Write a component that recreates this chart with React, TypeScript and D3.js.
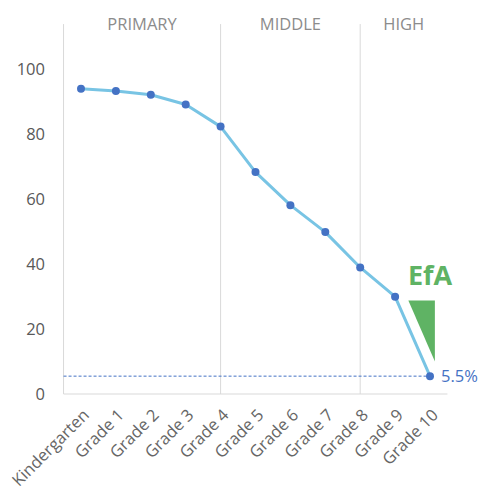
import { useEffect, useRef } from 'react';
import * as d3 from 'd3';

const grades = ['Kindergarten', 'Grade 1', 'Grade 2', 'Grade 3', 'Grade 4', 'Grade 5', 'Grade 6', 'Grade 7', 'Grade 8', 'Grade 9', 'Grade 10'];
const values = [94.1, 93.4, 92.2, 89.2, 82.4, 68.4, 58.2, 49.9, 39.0, 30.0, 5.5];
const yTicks = [0, 20, 40, 60, 80, 100];
const sections = [
  { label: 'PRIMARY', from: 'Kindergarten', to: 'Grade 4' },
  { label: 'MIDDLE', from: 'Grade 4', to: 'Grade 8' },
  { label: 'HIGH', from: 'Grade 8', to: 'Grade 10' },
];
const dividers = ['Grade 4', 'Grade 8'];
const lastLabel = '5.5%';

export default function App() {
  const svgRef = useRef<SVGSVGElement>(null);

  useEffect(() => {
    if (!svgRef.current) return;
    const svg = d3.select(svgRef.current);
    svg.selectAll('*').remove();

    const font = '"Open Sans", sans-serif';
    const x = d3.scalePoint<string>().domain(grades).range([81, 430]).padding(0);
    const step = x.step();
    const left = x('Kindergarten')! - step / 2;
    const right = x('Grade 10')! + step / 2;
    const y = d3.scaleLinear().domain([0, 100]).range([394, 69.5]);
    const top = y(114);

    // Vertical section lines
    const vlines = [left, ...dividers.map(d => x(d)!)];
    svg.selectAll('.vline')
      .data(vlines)
      .enter()
      .append('line')
      .attr('x1', d => d)
      .attr('x2', d => d)
      .attr('y1', top)
      .attr('y2', y(0))
      .attr('stroke', '#d9d9d9')
      .attr('stroke-width', 1);

    // Bottom axis line
    svg.append('line')
      .attr('x1', left)
      .attr('x2', right)
      .attr('y1', y(0))
      .attr('y2', y(0))
      .attr('stroke', '#d9d9d9');

    // Section labels
    svg.selectAll('.section')
      .data(sections)
      .enter()
      .append('text')
      .attr('x', d => {
        const a = d.from === 'Kindergarten' ? left : x(d.from)!;
        const b = d.to === 'Grade 10' ? right : x(d.to)!;
        return (a + b) / 2;
      })
      .attr('y', top + 6)
      .attr('text-anchor', 'middle')
      .attr('font-family', font)
      .attr('font-size', 16.5)
      .attr('fill', '#8c8c8c')
      .text(d => d.label);

    // Y tick labels
    svg.selectAll('.ytick')
      .data(yTicks)
      .enter()
      .append('text')
      .attr('x', 45)
      .attr('y', d => y(d))
      .attr('dy', '0.35em')
      .attr('text-anchor', 'end')
      .attr('font-family', font)
      .attr('font-size', 16.5)
      .attr('fill', '#595959')
      .text(d => d);

    // X tick labels
    svg.selectAll('.xtick')
      .data(grades)
      .enter()
      .append('text')
      .attr('transform', d => `translate(${x(d)! + 5},${y(0) + 18}) rotate(-45)`)
      .attr('text-anchor', 'end')
      .attr('dy', '0.35em')
      .attr('font-family', font)
      .attr('font-size', 16.5)
      .attr('fill', '#666666')
      .text(d => d);

    // Dashed reference line at last value
    const last = values[values.length - 1];
    svg.append('line')
      .attr('x1', left)
      .attr('x2', x('Grade 10')!)
      .attr('y1', y(last))
      .attr('y2', y(last))
      .attr('stroke', '#4472c4')
      .attr('stroke-width', 1)
      .attr('stroke-dasharray', '3,2');

    // Line
    const line = d3.line<number>()
      .x((_, i) => x(grades[i])!)
      .y(d => y(d));
    svg.append('path')
      .datum(values)
      .attr('fill', 'none')
      .attr('stroke', '#78c4e4')
      .attr('stroke-width', 3)
      .attr('stroke-linejoin', 'round')
      .attr('d', line);

    // Dots
    svg.selectAll('.dot')
      .data(values)
      .enter()
      .append('circle')
      .attr('cx', (_, i) => x(grades[i])!)
      .attr('cy', d => y(d))
      .attr('r', 4)
      .attr('fill', '#4472c4');

    // Last value label
    svg.append('text')
      .attr('x', x('Grade 10')! + 11)
      .attr('y', y(last))
      .attr('dy', '0.35em')
      .attr('font-family', font)
      .attr('font-size', 16.5)
      .attr('fill', '#4472c4')
      .text(lastLabel);

    // EfA annotation
    const g9 = x('Grade 9')!;
    const tri: [number, number][] = [
      [g9 + step * 0.38, y(28.8)],
      [g9 + step * 1.14, y(28.8)],
      [g9 + step * 1.14, y(10)],
    ];
    svg.append('path')
      .attr('d', d3.line()(tri) + 'Z')
      .attr('fill', '#5fb364');
    svg.append('text')
      .attr('x', g9 + step * 1.0)
      .attr('y', y(33.6))
      .attr('text-anchor', 'middle')
      .attr('font-family', font)
      .attr('font-weight', 'bold')
      .attr('font-size', 27)
      .attr('fill', '#5fb364')
      .text('EfA');
  }, []);

  return (
    <svg
      ref={svgRef}
      width={481}
      height={494}
      style={{ position: 'absolute', left: 0, top: 0, background: '#fff' }}
    />
  );
}
